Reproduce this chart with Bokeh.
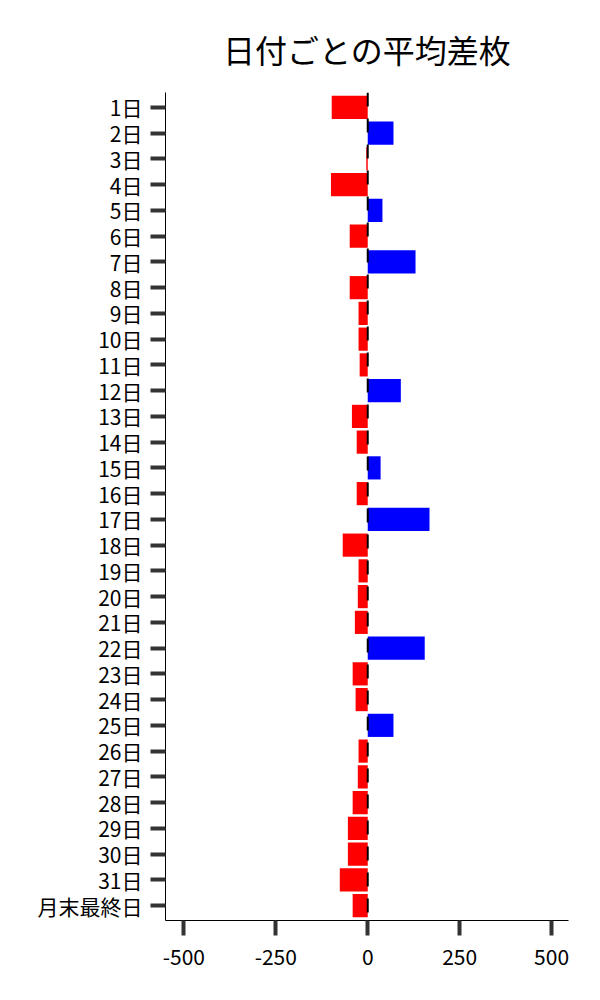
from bokeh.plotting import figure
from bokeh.models import ColumnDataSource, Span, FixedTicker
from bokeh.embed import file_html
from bokeh.resources import INLINE

title_text = "日付ごとの平均差枚"
categories = [f"{i}日" for i in range(1, 32)] + ["月末最終日"]
values = [-98, 70, -4, -100, 40, -49, 130, -49, -25, -25, -22, 90, -43, -30, 35, -30,
          168, -68, -25, -27, -35, 155, -41, -33, 70, -25, -27, -41, -54, -54, -76, -41]
colors = ["blue" if v > 0 else "red" for v in values]
x_ticks = [-500, -250, 0, 250, 500]
x_tick_labels = ["-500", "-250", "0", "250", "500"]

src = ColumnDataSource(dict(cat=categories, val=values, color=colors))

p = figure(y_range=list(reversed(categories)), x_range=(-550, 546),
           frame_width=403, frame_height=828, output_backend="svg", toolbar_location=None,
           title=title_text, min_border_left=165, min_border_right=16,
           min_border_top=92, min_border_bottom=60)

p.add_layout(Span(location=0, dimension="height", line_color="black",
                  line_width=2, line_dash="14 12"))
p.hbar(y="cat", right="val", left=0, height=0.9, color="color", source=src,
       line_color=None)

p.title.text_font = "Noto Sans CJK JP"
p.title.text_font_size = "32px"
p.title.text_font_style = "normal"
p.title.text_color = "black"
p.title.align = "center"
p.title.offset = 0
p.title.standoff = 42

p.outline_line_color = None
p.xgrid.visible = False
p.ygrid.visible = False
p.y_range.range_padding = 0.08
p.y_range.range_padding_units = "absolute"

for ax in (p.xaxis[0], p.yaxis[0]):
    ax.axis_line_color = "black"
    ax.axis_line_width = 1
    ax.major_tick_line_color = "#333333"
    ax.major_tick_line_width = 4
    ax.major_tick_out = 15
    ax.major_tick_in = 0
    ax.minor_tick_line_color = None
    ax.major_label_text_font = "Noto Sans CJK JP"
    ax.major_label_text_font_size = "21px"
    ax.major_label_text_color = "black"

p.xaxis[0].ticker = FixedTicker(ticks=x_ticks)
p.xaxis[0].major_label_overrides = dict(zip(x_ticks, x_tick_labels))
p.xaxis[0].major_label_standoff = 13
p.yaxis[0].major_label_standoff = 8

open("out.html", "w").write(file_html(p, INLINE))
